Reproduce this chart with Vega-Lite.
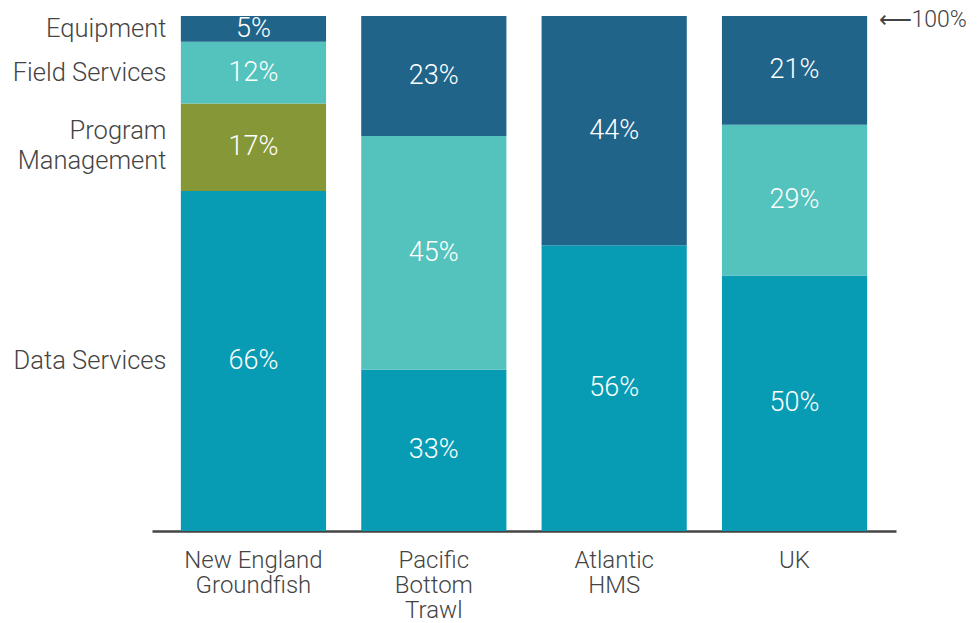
{
  "$schema": "https://vega.github.io/schema/vega-lite/v6.json",
  "autosize": {"type": "none"},
  "padding": {"left": 152, "top": 16, "right": 84, "bottom": 92},
  "width": 744,
  "height": 515,
  "background": "white",
  "config": {
    "view": {"stroke": null},
    "font": "Roboto",
    "text": {"font": "Roboto"}
  },
  "data": {
    "values": [
      {"site": "New England Groundfish", "category": "Data Services", "order": 1, "value": 66, "label": "66%"},
      {"site": "New England Groundfish", "category": "Program Management", "order": 2, "value": 17, "label": "17%"},
      {"site": "New England Groundfish", "category": "Field Services", "order": 3, "value": 12, "label": "12%"},
      {"site": "New England Groundfish", "category": "Equipment", "order": 4, "value": 5, "label": "5%"},
      {"site": "Pacific Bottom Trawl", "category": "Data Services", "order": 1, "value": 31.3, "label": "33%"},
      {"site": "Pacific Bottom Trawl", "category": "Field Services", "order": 3, "value": 45.4, "label": "45%"},
      {"site": "Pacific Bottom Trawl", "category": "Equipment", "order": 4, "value": 23.3, "label": "23%"},
      {"site": "Atlantic HMS", "category": "Data Services", "order": 1, "value": 55.5, "label": "56%"},
      {"site": "Atlantic HMS", "category": "Equipment", "order": 4, "value": 44.5, "label": "44%"},
      {"site": "UK", "category": "Data Services", "order": 1, "value": 49.6, "label": "50%"},
      {"site": "UK", "category": "Field Services", "order": 3, "value": 29.3, "label": "29%"},
      {"site": "UK", "category": "Equipment", "order": 4, "value": 21.1, "label": "21%"}
    ]
  },
  "encoding": {
    "x": {
      "field": "site",
      "type": "nominal",
      "sort": ["New England Groundfish", "Pacific Bottom Trawl", "Atlantic HMS", "UK"],
      "scale": {"paddingInner": 0.195, "paddingOuter": 0.16},
      "axis": {
        "title": null,
        "labelAngle": 0,
        "ticks": false,
        "domainColor": "#444444",
        "domainWidth": 2.5,
        "labelFont": "Roboto",
        "labelFontWeight": 300,
        "labelFontSize": 24,
        "labelColor": "#444444",
        "labelLineHeight": 25,
        "labelPadding": 29,
        "labelBaseline": "middle",
        "labelExpr": "datum.label == 'New England Groundfish' ? ['New England', 'Groundfish'] : datum.label == 'Pacific Bottom Trawl' ? ['Pacific', 'Bottom', 'Trawl'] : datum.label == 'Atlantic HMS' ? ['Atlantic', 'HMS'] : datum.label"
      }
    }
  },
  "layer": [
    {
      "mark": {"type": "bar"},
      "encoding": {
        "y": {
          "field": "value",
          "type": "quantitative",
          "stack": "normalize",
          "scale": {"domain": [0, 1], "nice": false},
          "axis": null
        },
        "order": {"field": "order", "type": "quantitative"},
        "color": {
          "field": "category",
          "type": "nominal",
          "scale": {
            "domain": ["Data Services", "Program Management", "Field Services", "Equipment"],
            "range": ["#089cb4", "#869738", "#54c2bd", "#206489"]
          },
          "legend": null
        }
      }
    },
    {
      "mark": {"type": "text", "color": "white", "fontSize": 27, "fontWeight": 300, "baseline": "middle", "align": "center"},
      "encoding": {
        "y": {"field": "value", "type": "quantitative", "stack": "normalize", "bandPosition": 0.5},
        "order": {"field": "order", "type": "quantitative"},
        "text": {"field": "label"}
      }
    },
    {
      "transform": [
        {"filter": "datum.site == 'New England Groundfish'"}
      ],
      "mark": {"type": "text", "color": "#444444", "fontSize": 25.5, "fontWeight": 300, "baseline": "middle", "align": "right", "dx": -87},
      "encoding": {
        "y": {"field": "value", "type": "quantitative", "stack": "normalize", "bandPosition": 0.5},
        "order": {"field": "order", "type": "quantitative"},
        "text": {"condition": {"test": "datum.category == 'Program Management'", "value": ""}, "field": "category"}
      }
    },
    {
      "transform": [
        {"filter": "datum.site == 'New England Groundfish'"},
        {"calculate": "datum.category == 'Program Management' ? ['Program', 'Management'] : ''", "as": "leftLabel"}
      ],
      "mark": {"type": "text", "color": "#444444", "fontSize": 25.5, "fontWeight": 300, "baseline": "middle", "align": "right", "dx": -87, "dy": -16, "lineHeight": 30},
      "encoding": {
        "y": {"field": "value", "type": "quantitative", "stack": "normalize", "bandPosition": 0.5},
        "order": {"field": "order", "type": "quantitative"},
        "text": {"field": "leftLabel"}
      }
    },
    {
      "data": {"values": [{"site": "UK", "note": "⟵100%"}]},
      "mark": {"type": "text", "color": "#444444", "fontSize": 23, "fontWeight": 300, "baseline": "middle", "align": "left", "dx": 84, "dy": 4},
      "encoding": {
        "y": {"datum": 1},
        "text": {"field": "note"}
      }
    }
  ]
}
